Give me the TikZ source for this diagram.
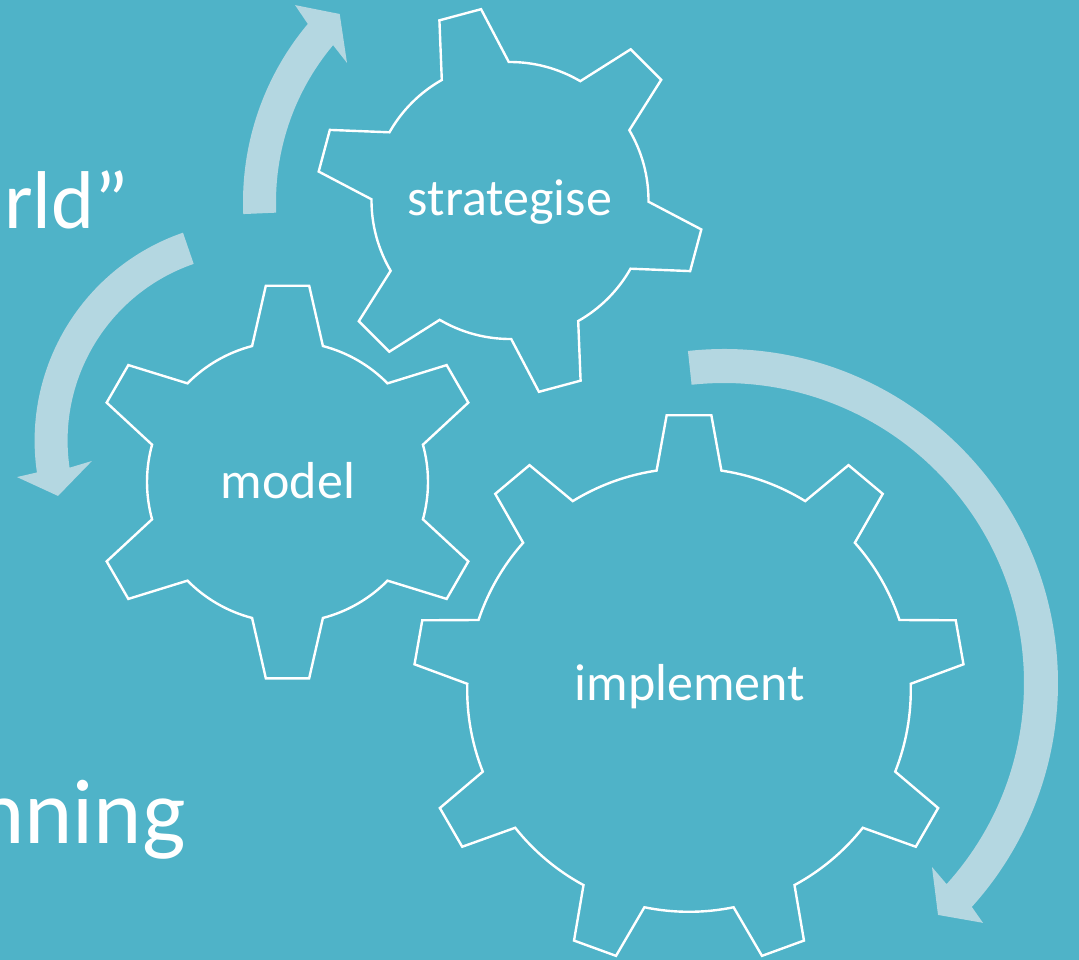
\documentclass[tikz,border=0pt]{standalone}
\usepackage{fontspec}
\setmainfont{Carlito}
\definecolor{bgteal}{HTML}{4FB3C8}
\definecolor{arrowblue}{HTML}{B4D7E1}
\tikzset{
  gearline/.style={draw=white, line width=1.8pt, line join=miter},
  cycarrow/.style={fill=arrowblue, draw=none},
  lbl/.style={text=white, inner sep=0pt, font=\fontsize{39}{47}\selectfont},
  bigtxt/.style={text=white, inner sep=0pt, font=\fontsize{61.5}{70}\selectfont},
  biggertxt/.style={text=white, inner sep=0pt, font=\fontsize{69}{80}\selectfont}
}
% #1 cx, #2 cy, #3 teeth, #4 first tooth angle, #5 root radius, #6 tip radius, #7 base half-angle, #8 tip half-angle
\newcommand{\gearoutline}[8]{%
  \begin{scope}[shift={(#1,#2)}]
    \draw[gearline] ({#4-#7}:#5)
      \foreach \k [evaluate=\k as \t using {#4+(\k-1)*360/#3}] in {1,...,#3} {
        -- ({\t-#8}:#6) -- ({\t+#8}:#6) -- ({\t+#7}:#5)
        arc[start angle={\t+#7}, end angle={\t+360/#3-#7}, radius=#5]
      } -- cycle;
  \end{scope}}
\begin{document}
\begin{tikzpicture}[x=0.75pt,y=-0.75pt]
\useasboundingbox (0,0) rectangle (1079,960);
\fill[bgteal] (0,0) rectangle (1079,960);

% arrows
\begin{scope}[shift={(520,202)}]
  \fill[cycarrow] (177.5:277) arc[start angle=177.5, end angle=220, radius=277]
    -- (221.2:299) -- (226.2:260.5) -- (218.8:222) -- (220:244)
    arc[start angle=220, end angle=177.5, radius=244] -- cycle;
\end{scope}
\begin{scope}[shift={(254.6,440.7)}]
  \fill[cycarrow] (251:220) arc[start angle=251, end angle=171.7, radius=220]
    -- (171.3:240.4) -- (164.3:204.2) -- (172.9:163.9) -- (171.7:187)
    arc[start angle=171.7, end angle=251, radius=187] -- cycle;
\end{scope}
\begin{scope}[shift={(724,683)}]
  \fill[cycarrow] (-96.2:334) arc[start angle=-96.2, end angle=42.1, radius=334]
    -- (42.8:353) -- (47.3:315.6) -- (41.5:277.7) -- (42.1:300)
    arc[start angle=42.1, end angle=-96.2, radius=300] -- cycle;
\end{scope}

% gears
\gearoutline{510}{200.5}{6}{-105}{138.5}{193.5}{14.5}{6.4}
\gearoutline{287.5}{482}{6}{-90}{140.5}{197.5}{14.6}{6.3}
\gearoutline{689}{690}{9}{-90}{221.8}{275.7}{8.4}{4.65}

% labels
\node[lbl, anchor=base] (strat) at (510,215) {strategise};
\node[lbl, anchor=base] (model) at (288,498) {model};
\node[lbl, anchor=base] (impl) at (690,700) {implement};
\node[bigtxt, anchor=base west] (world) at (4,228) {rld”};
\node[biggertxt, anchor=base east] (plan) at (186,843) {nning};
\end{tikzpicture}
\end{document}
